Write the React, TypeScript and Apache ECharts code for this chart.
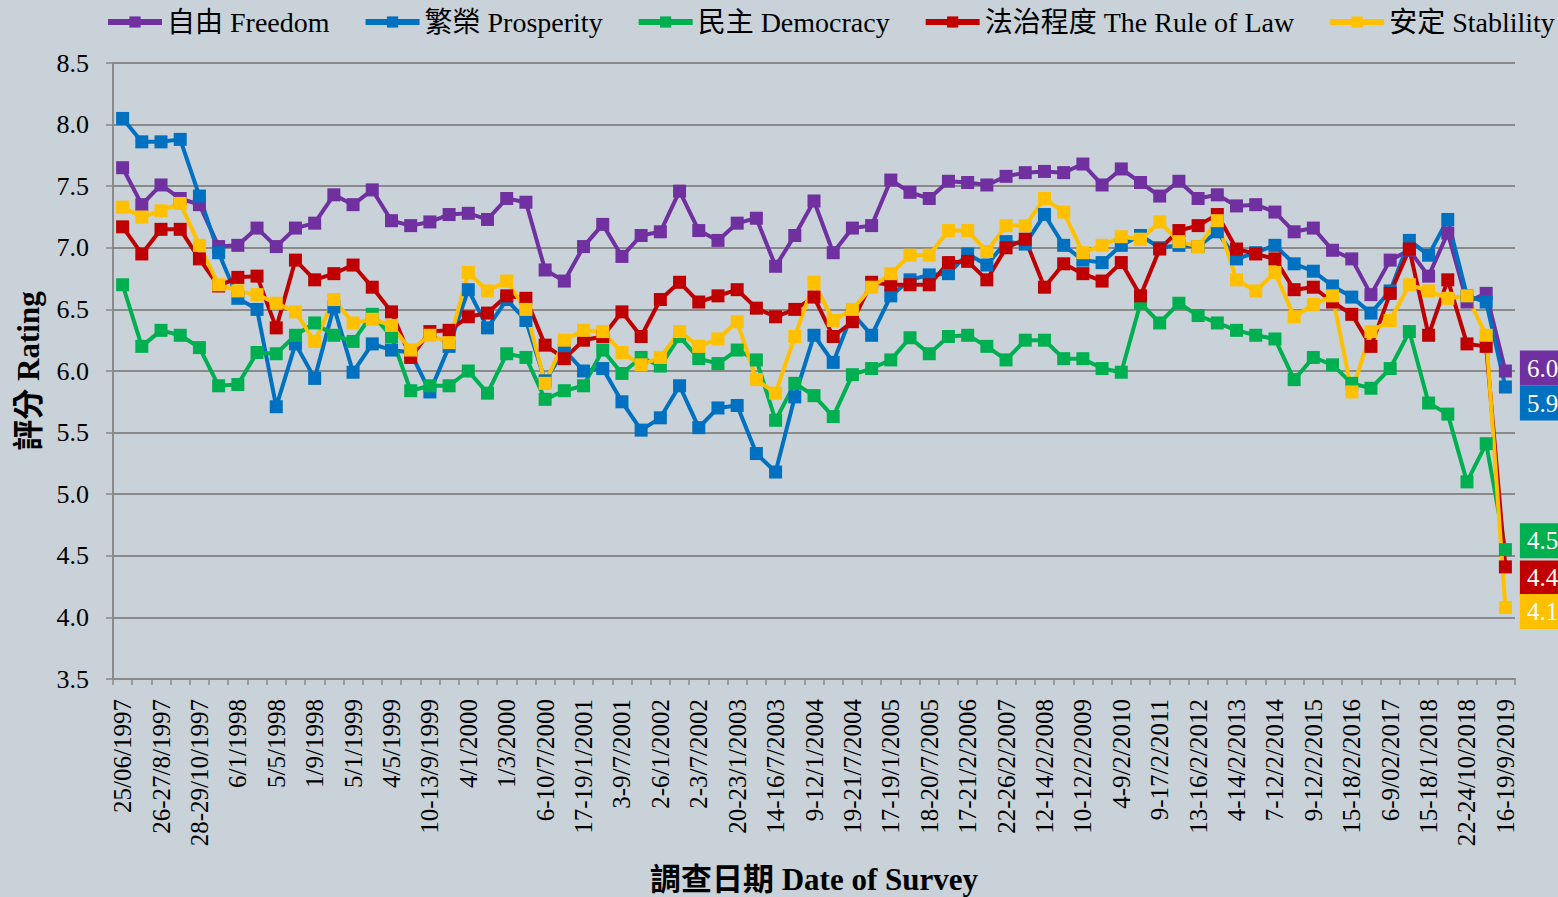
import { useEffect, useRef } from "react";
import * as echarts from "echarts";

// 73 survey dates; only every second label is shown on the axis (the others are hidden in the reference)
const categories = [
  "25/06/1997", "", "26-27/8/1997", "", "28-29/10/1997", "", "6/1/1998", "", "5/5/1998", "",
  "1/9/1998", "", "5/1/1999", "", "4/5/1999", "", "10-13/9/1999", "", "4/1/2000", "",
  "1/3/2000", "", "6-10/7/2000", "", "17-19/1/2001", "", "3-9/7/2001", "", "2-6/1/2002", "",
  "2-3/7/2002", "", "20-23/1/2003", "", "14-16/7/2003", "", "9-12/1/2004", "", "19-21/7/2004", "",
  "17-19/1/2005", "", "18-20/7/2005", "", "17-21/2/2006", "", "22-26/2/2007", "", "12-14/2/2008", "",
  "10-12/2/2009", "", "4-9/2/2010", "", "9-17/2/2011", "", "13-16/2/2012", "", "4-14/2/2013", "",
  "7-12/2/2014", "", "9-12/2/2015", "", "15-18/2/2016", "", "6-9/02/2017", "", "15-18/1/2018", "",
  "22-24/10/2018", "", "16-19/9/2019",
];

const freedom = [
  7.65, 7.35, 7.51, 7.40, 7.35, 7.01, 7.02, 7.16, 7.01, 7.16,
  7.20, 7.43, 7.35, 7.47, 7.22, 7.18, 7.21, 7.27, 7.28, 7.23,
  7.40, 7.37, 6.82, 6.73, 7.01, 7.19, 6.93, 7.10, 7.13, 7.46,
  7.14, 7.06, 7.20, 7.24, 6.85, 7.10, 7.38, 6.96, 7.16, 7.18,
  7.55, 7.45, 7.40, 7.54, 7.53, 7.51, 7.58, 7.61, 7.62, 7.61,
  7.68, 7.51, 7.64, 7.53, 7.42, 7.54, 7.40, 7.43, 7.34, 7.35,
  7.29, 7.13, 7.16, 6.98, 6.91, 6.62, 6.90, 6.98, 6.77, 7.12,
  6.56, 6.63, 6.00,
];

const prosperity = [
  8.05, 7.86, 7.86, 7.88, 7.42, 6.96, 6.59, 6.50, 5.71, 6.22,
  5.94, 6.52, 5.99, 6.22, 6.17, 6.15, 5.83, 6.20, 6.66, 6.35,
  6.58, 6.41, 5.92, 6.17, 6.00, 6.02, 5.75, 5.52, 5.62, 5.88,
  5.54, 5.70, 5.72, 5.33, 5.18, 5.79, 6.29, 6.07, 6.47, 6.29,
  6.61, 6.74, 6.78, 6.79, 6.95, 6.86, 7.05, 7.03, 7.27, 7.02,
  6.90, 6.88, 7.02, 7.10, 7.00, 7.02, 7.01, 7.13, 6.91, 6.96,
  7.02, 6.87, 6.81, 6.69, 6.60, 6.47, 6.65, 7.06, 6.94, 7.23,
  6.61, 6.56, 5.87,
];

const democracy = [
  6.70, 6.20, 6.33, 6.29, 6.19, 5.88, 5.89, 6.15, 6.14, 6.29,
  6.39, 6.29, 6.24, 6.46, 6.28, 5.84, 5.88, 5.88, 6.00, 5.82,
  6.14, 6.11, 5.77, 5.84, 5.88, 6.17, 5.98, 6.11, 6.04, 6.28,
  6.10, 6.06, 6.17, 6.09, 5.60, 5.90, 5.80, 5.63, 5.97, 6.02,
  6.09, 6.27, 6.14, 6.28, 6.29, 6.20, 6.09, 6.25, 6.25, 6.10,
  6.10, 6.02, 5.99, 6.55, 6.39, 6.55, 6.45, 6.39, 6.33, 6.29,
  6.26, 5.93, 6.11, 6.05, 5.90, 5.86, 6.02, 6.32, 5.74, 5.65,
  5.10, 5.41, 4.55,
];

const ruleOfLaw = [
  7.17, 6.95, 7.15, 7.15, 6.91, 6.69, 6.76, 6.77, 6.35, 6.90,
  6.74, 6.79, 6.86, 6.68, 6.48, 6.11, 6.32, 6.33, 6.44, 6.47,
  6.61, 6.59, 6.21, 6.10, 6.25, 6.28, 6.48, 6.28, 6.58, 6.72,
  6.56, 6.61, 6.66, 6.51, 6.44, 6.50, 6.60, 6.28, 6.40, 6.72,
  6.70, 6.70, 6.70, 6.88, 6.89, 6.74, 7.00, 7.07, 6.68, 6.87,
  6.79, 6.73, 6.88, 6.61, 6.99, 7.14, 7.18, 7.27, 6.99, 6.95,
  6.91, 6.66, 6.68, 6.56, 6.46, 6.20, 6.63, 6.99, 6.29, 6.74,
  6.22, 6.20, 4.41,
];

const stability = [
  7.33, 7.25, 7.30, 7.36, 7.02, 6.70, 6.65, 6.62, 6.55, 6.48,
  6.24, 6.58, 6.39, 6.42, 6.37, 6.17, 6.29, 6.23, 6.80, 6.65,
  6.73, 6.50, 5.90, 6.25, 6.33, 6.32, 6.15, 6.05, 6.11, 6.32,
  6.20, 6.26, 6.40, 5.93, 5.82, 6.28, 6.72, 6.41, 6.50, 6.68,
  6.79, 6.94, 6.94, 7.14, 7.14, 6.97, 7.18, 7.18, 7.40, 7.29,
  6.96, 7.02, 7.09, 7.07, 7.21, 7.05, 7.01, 7.22, 6.74, 6.65,
  6.80, 6.44, 6.54, 6.61, 5.83, 6.32, 6.41, 6.70, 6.65, 6.59,
  6.61, 6.29, 4.08,
];

const seriesNames = [
  "自由 Freedom",
  "繁榮 Prosperity",
  "民主 Democracy",
  "法治程度 The Rule of Law",
  "安定 Stablility",
];
const seriesValues = [freedom, prosperity, democracy, ruleOfLaw, stability];
const seriesColors = ["#7030A0", "#0070C0", "#00B050", "#C00000", "#FFC000"];
// vertical nudges of the end-value boxes so they do not overlap
const endLabelOffsets = [-3, 16, -9, 11, 4];

const FONT =
  "'Times New Roman', 'Liberation Serif', 'DejaVu Serif', 'Noto Sans CJK TC', serif";

export default function App() {
  const ref = useRef<HTMLDivElement>(null);

  useEffect(() => {
    if (!ref.current) return;
    const chart = echarts.init(ref.current, undefined, { renderer: "svg" });

    const series = seriesNames.map((name, si) => {
      const vals = seriesValues[si];
      const color = seriesColors[si];
      return {
        name,
        type: "line",
        symbol: "rect",
        symbolSize: 13,
        showSymbol: true,
        showAllSymbol: true,
        color,
        lineStyle: { width: 4, color },
        itemStyle: { color },
        emphasis: { disabled: true },
        data: vals.map((v, i) =>
          i === vals.length - 1
            ? {
                value: v,
                label: {
                  show: true,
                  position: "right",
                  distance: 8,
                  offset: [0, endLabelOffsets[si]],
                  formatter: v.toFixed(1),
                  backgroundColor: color,
                  color: "#ffffff",
                  fontFamily: FONT,
                  fontSize: 25,
                  padding: [5, 7, 5, 7],
                },
              }
            : v
        ),
      };
    });

    chart.setOption({
      animation: false,
      backgroundColor: "#c8d2d8",
      textStyle: { fontFamily: FONT },
      legend: {
        top: 8,
        left: 105,
        width: 1480,
        padding: 0,
        itemWidth: 54,
        itemHeight: 14,
        itemGap: 33,
        lineStyle: { width: 6 },
        textStyle: { fontFamily: FONT, fontSize: 28, color: "#000" },
        data: seriesNames,
      },
      grid: {
        left: 113,
        right: 43,
        top: 63,
        bottom: 218,
        containLabel: false,
        outerBoundsMode: "none",
      },
      xAxis: {
        type: "category",
        boundaryGap: true,
        data: categories,
        name: "調查日期 Date of Survey",
        nameLocation: "middle",
        nameGap: 185,
        nameTextStyle: { fontFamily: FONT, fontSize: 31, fontWeight: "bold", color: "#000" },
        axisLine: { show: true, lineStyle: { color: "#8a8a8a", width: 2 } },
        axisTick: { show: true, interval: 0, length: 6, lineStyle: { color: "#8a8a8a", width: 1.5 } },
        axisLabel: {
          interval: 1,
          rotate: 90,
          margin: 20,
          fontFamily: FONT,
          fontSize: 25,
          color: "#000",
        },
        splitLine: { show: false },
      },
      yAxis: {
        type: "value",
        min: 3.5,
        max: 8.5,
        interval: 0.5,
        name: "評分 Rating",
        nameLocation: "middle",
        nameGap: 69,
        nameRotate: 90,
        nameTextStyle: { fontFamily: FONT, fontSize: 31, fontWeight: "bold", color: "#000" },
        axisLine: { show: true, lineStyle: { color: "#8a8a8a", width: 2 } },
        axisTick: { show: true, length: 7, lineStyle: { color: "#8a8a8a", width: 1.5 } },
        axisLabel: {
          margin: 24,
          fontFamily: FONT,
          fontSize: 26,
          color: "#000",
          formatter: (v: number) => v.toFixed(1),
        },
        splitLine: { show: true, lineStyle: { color: "#8a8a8a", width: 2 } },
      },
      series,
    });

    return () => chart.dispose();
  }, []);

  return (
    <div
      ref={ref}
      style={{ position: "absolute", left: 0, top: 0, width: 1558, height: 897 }}
    />
  );
}
